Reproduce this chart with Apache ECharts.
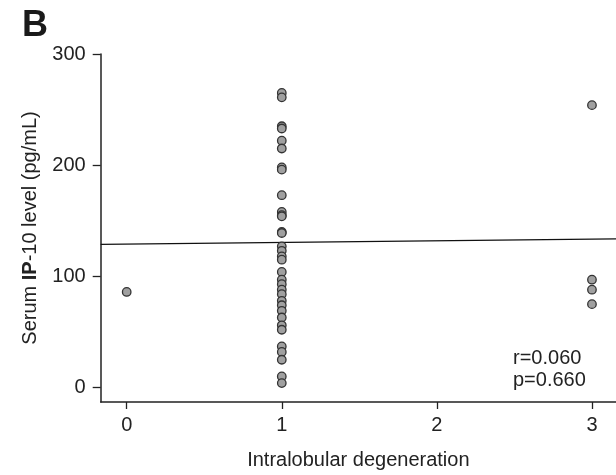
<!DOCTYPE html>
<html>
<head>
<meta charset="utf-8">
<script src="https://cdn.jsdelivr.net/npm/echarts@6/dist/echarts.min.js"></script>
<style>
html,body{margin:0;padding:0;background:#fff;}
#chart{width:616px;height:475px;}
</style>
</head>
<body>
<div id="chart"></div>
<script>
// Data
var xTicks = [0, 1, 2, 3];
var yTicks = [0, 100, 200, 300];
var grade0 = [86];
var grade1 = [265, 261, 235, 233, 222, 215, 198, 196, 173, 158, 155, 154, 140, 139, 127, 123, 118, 115, 104, 97, 93, 88, 84, 78, 74, 69, 63, 56, 52, 37, 32, 25, 10, 4];
var grade2 = [];
var grade3 = [254, 97, 88, 75];
var fitIntercept = 129.0;
var fitSlope = 1.5;
var statsText = ['r=0.060', 'p=0.660'];
var panelLabel = 'B';
var xName = 'Intralobular degeneration';
var yName = 'Serum {b|IP}-10 level (pg/mL)';

var groups = [grade0, grade1, grade2, grade3];
var points = [];
groups.forEach(function (vals, g) {
  vals.forEach(function (v) { points.push([xTicks[g], v]); });
});

var xMin = -0.1676, xMax = 3.155, yMin = -13, yMax = 300;
var fitLine = [[xMin, fitIntercept + fitSlope * xMin], [xMax, fitIntercept + fitSlope * xMax]];

var FONT = '"Liberation Sans", Arial, Helvetica, sans-serif';
var TXT = '#222';

var chart = echarts.init(document.getElementById('chart'), null, {renderer: 'canvas'});
chart.setOption({
  animation: false,
  backgroundColor: '#fff',
  textStyle: {fontFamily: FONT},
  grid: {left: 100.7, right: 0, top: 54, bottom: 70.5, containLabel: false},
  xAxis: {
    type: 'value', min: xMin, max: xMax,
    splitLine: {show: false},
    axisLine: {show: true, onZero: false, lineStyle: {color: '#222', width: 1.5}},
    axisTick: {show: true, inside: false, length: 7, lineStyle: {color: '#222', width: 1.3}, customValues: xTicks},
    axisLabel: {show: true, margin: 13, fontSize: 20, color: TXT, fontFamily: FONT, customValues: xTicks,
      formatter: function (v) { return String(v); }},
    name: xName, nameLocation: 'middle', nameGap: 48,
    nameTextStyle: {fontSize: 20, color: TXT, fontFamily: FONT}
  },
  yAxis: {
    type: 'value', min: yMin, max: yMax,
    splitLine: {show: false},
    axisLine: {show: true, onZero: false, lineStyle: {color: '#222', width: 1.5}},
    axisTick: {show: true, inside: false, length: 8, lineStyle: {color: '#222', width: 1.3}, customValues: yTicks},
    axisLabel: {show: true, margin: 15, fontSize: 20, color: TXT, fontFamily: FONT, customValues: yTicks,
      formatter: function (v) { return String(v); }},
    name: yName, nameLocation: 'middle', nameGap: 60, nameRotate: 90,
    nameTextStyle: {fontSize: 20, color: TXT, fontFamily: FONT,
      rich: {b: {fontSize: 20, fontWeight: 'bold', color: TXT, fontFamily: FONT}}}
  },
  series: [
    {
      type: 'line', data: fitLine, showSymbol: false, symbol: 'none', z: 1,
      lineStyle: {color: '#111', width: 1.3}, silent: true
    },
    {
      type: 'scatter', data: points, symbol: 'circle', symbolSize: 8.5, z: 2,
      itemStyle: {color: '#a0a0a0', borderColor: '#333', borderWidth: 1.3, opacity: 1}
    }
  ],
  graphic: [
    {type: 'text', left: 22, top: 8, style: {text: panelLabel, font: 'bold 36px ' + FONT, fill: '#1a1a1a'}},
    {type: 'text', x: 513, y: 347, style: {text: statsText.join('\n'), font: '20px ' + FONT, lineHeight: 22, fill: TXT}}
  ]
});
</script>
</body>
</html>
